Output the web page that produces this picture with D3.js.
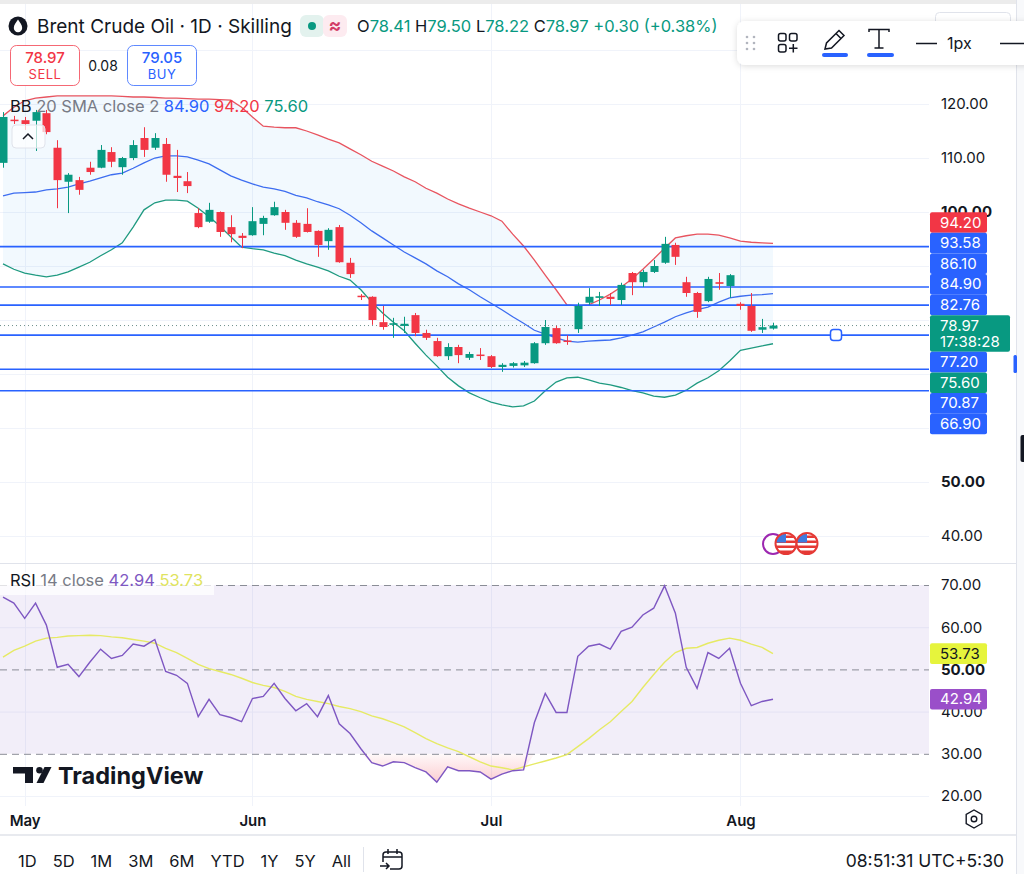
<!DOCTYPE html>
<html>
<head>
<meta charset="utf-8">
<title>Brent Crude Oil 1D</title>
<script src="https://cdn.jsdelivr.net/npm/d3@7/dist/d3.min.js"></script>
<style>
  html, body { margin: 0; padding: 0; background: #fff; overflow: hidden; }
  svg { display: block; font-family: Inter, 'Noto Sans', sans-serif; }
</style>
</head>
<body>
<svg width="1024" height="874"></svg>
<script>
'use strict'

// daily candles (index 0 = last days of April)
const opens = [109.1, 117.1, 117.0, 116.9, 118.3, 111.9, 105.6, 105.9, 108.2, 108.2,
  111.1, 108.3, 110.0, 113.7, 111.9, 112.6, 106.7, 105.7, 99.8, 98.2,
  100.0, 97.2, 95.6, 95.7, 97.8, 99.4, 100.0, 98.0, 97.8, 96.5,
  94.6, 97.2, 90.6, 84.5, 84.3, 79.6, 79.1, 78.9, 80.9, 77.6,
  76.1, 73.3, 75.0, 73.0, 73.6, 73.3, 71.3, 71.5, 71.6, 72.0,
  75.7, 78.5, 76.2, 78.3, 83.2, 84.1, 84.3, 83.7, 88.7, 87.0,
  88.9, 90.6, 93.9, 87.0, 85.0, 83.5, 87.0, 86.3, 83.0, 82.6,
  78.2, 78.41]
const highs = [118.5, 117.8, 117.6, 118.9, 118.9, 113.3, 107.2, 106.5, 109.3, 112.4,
  112.0, 110.2, 113.3, 115.7, 114.6, 113.7, 111.5, 107.4, 100.7, 101.7,
  100.1, 99.4, 96.1, 100.9, 99.3, 101.9, 100.4, 98.5, 100.7, 96.6,
  97.0, 97.6, 91.5, 84.8, 84.4, 82.6, 80.4, 80.6, 81.3, 78.2,
  76.7, 75.7, 75.4, 74.1, 74.8, 73.5, 72.0, 72.2, 72.4, 75.9,
  80.0, 78.9, 77.2, 83.2, 85.9, 85.2, 85.0, 86.9, 88.9, 89.3,
  91.1, 95.4, 94.3, 88.0, 85.2, 88.0, 88.7, 88.5, 83.3, 85.0,
  80.2, 79.50]
const lows = [108.2, 116.3, 115.2, 111.3, 114.4, 100.7, 99.8, 103.2, 106.9, 108.1,
  108.3, 106.9, 109.6, 110.2, 111.5, 105.6, 103.7, 103.5, 97.0, 98.0,
  95.4, 94.4, 93.3, 95.6, 95.7, 99.3, 96.7, 95.2, 96.2, 91.7,
  93.0, 90.6, 87.8, 83.7, 79.1, 78.2, 76.7, 77.6, 77.0, 76.3,
  73.2, 72.6, 72.0, 72.6, 72.6, 71.1, 70.4, 71.2, 71.3, 71.9,
  75.4, 75.6, 75.4, 77.6, 82.8, 82.6, 82.8, 82.8, 84.6, 86.1,
  88.7, 90.4, 90.2, 84.3, 80.4, 83.3, 85.6, 84.1, 81.9, 77.8,
  77.6, 78.22]
const closes = [117.6, 116.9, 116.3, 118.5, 114.8, 105.9, 106.9, 104.1, 107.4, 111.5,
  109.3, 110.0, 112.4, 111.5, 113.7, 106.9, 106.3, 104.8, 97.2, 100.4,
  96.3, 95.9, 95.2, 98.3, 98.9, 100.9, 98.0, 95.4, 96.3, 93.9,
  96.7, 90.7, 88.5, 84.3, 80.0, 78.7, 79.4, 79.3, 77.6, 76.7,
  73.3, 75.0, 73.5, 73.7, 73.4, 71.3, 71.7, 72.0, 72.1, 75.7,
  78.7, 75.7, 76.0, 82.6, 84.3, 84.4, 83.9, 86.5, 87.0, 88.9,
  90.0, 94.1, 91.7, 85.0, 81.5, 87.6, 86.7, 88.3, 82.6, 78.0,
  78.67, 78.97]

// Bollinger Bands 20 SMA close 2
const bbUpper = [117.8, 119.4, 120.6, 121.1, 121.3, 121.5, 121.5, 121.5, 121.5, 121.5,
  121.5, 121.4, 121.3, 121.3, 121.2, 121.1, 121.1, 121.0, 120.9, 120.9,
  120.8, 120.7, 119.4, 117.6, 115.9, 115.7, 115.6, 115.6, 115.0, 114.3,
  113.5, 112.8, 111.7, 110.6, 109.4, 108.5, 107.6, 106.5, 105.6, 104.4,
  103.5, 102.4, 101.5, 100.7, 100.0, 99.3, 98.3, 95.9, 93.7, 91.1,
  88.3, 85.6, 82.8, 82.6, 82.8, 83.7, 84.8, 86.1, 87.6, 89.4,
  91.3, 93.3, 95.2, 95.6, 95.9, 95.9, 95.7, 95.2, 94.6, 94.4,
  94.3, 94.20]
const bbBasis = [103.0, 103.5, 103.6, 103.7, 104.1, 104.3, 104.6, 105.2, 105.7, 106.3,
  106.9, 107.2, 108.1, 109.1, 110.0, 110.4, 110.4, 110.2, 109.6, 108.9,
  107.8, 106.7, 105.9, 105.2, 104.6, 104.3, 103.8, 103.1, 102.6, 101.9,
  101.3, 100.6, 99.4, 98.0, 96.5, 95.2, 93.9, 92.6, 91.5, 90.4,
  89.1, 88.0, 86.7, 85.6, 84.3, 83.1, 81.9, 80.6, 79.4, 78.1,
  77.4, 76.7, 76.1, 75.9, 76.1, 76.2, 76.3, 76.7, 77.2, 77.8,
  78.7, 79.6, 80.6, 81.3, 81.9, 82.4, 83.3, 84.1, 84.4, 84.6,
  84.7, 84.90]
const bbLower = [90.4, 89.4, 88.7, 88.3, 88.0, 88.3, 88.9, 89.8, 90.7, 91.9,
  93.0, 94.3, 97.2, 100.4, 101.7, 102.2, 102.2, 102.0, 100.7, 99.1,
  97.4, 95.4, 93.5, 93.2, 93.0, 92.4, 91.9, 91.1, 90.4, 89.8,
  89.1, 88.1, 87.4, 85.6, 83.3, 81.3, 79.6, 78.0, 75.7, 73.5,
  71.5, 69.4, 67.8, 66.5, 65.6, 64.8, 64.3, 63.9, 64.1, 65.0,
  66.9, 68.5, 69.3, 69.4, 68.9, 68.3, 68.0, 67.5, 66.9, 66.5,
  65.9, 65.7, 66.1, 67.0, 68.3, 69.3, 70.6, 72.4, 74.4, 74.8,
  75.2, 75.60]

// RSI 14 close and its moving average
const rsi = [67.1, 65.7, 62.1, 65.7, 60.5, 50.5, 51.2, 48.3, 51.7, 54.8,
  52.6, 53.3, 56.0, 55.5, 57.1, 49.5, 48.6, 46.7, 38.8, 42.9,
  39.3, 38.6, 37.6, 43.1, 43.6, 46.7, 43.1, 40.2, 41.9, 38.8,
  43.8, 37.1, 34.8, 31.2, 27.9, 27.1, 28.1, 27.9, 26.7, 25.7,
  23.3, 26.9, 26.0, 26.0, 25.7, 24.0, 25.2, 26.0, 26.2, 37.4,
  44.3, 39.8, 39.8, 53.1, 55.5, 56.0, 54.8, 59.0, 60.0, 62.9,
  64.5, 69.8, 63.3, 50.5, 45.5, 54.0, 52.6, 55.0, 46.7, 41.4,
  42.4, 42.94]
const rsiMa = [52.9, 54.5, 55.5, 56.7, 57.4, 57.6, 57.9, 58.0, 58.1, 58.0,
  57.7, 57.5, 57.1, 56.7, 56.2, 55.0, 54.0, 52.6, 51.2, 50.2,
  49.5, 48.8, 47.9, 46.9, 46.2, 45.7, 44.8, 43.6, 42.9, 42.4,
  41.9, 41.2, 40.7, 40.0, 39.0, 38.3, 37.4, 36.4, 35.0, 33.6,
  32.4, 31.4, 30.5, 29.3, 28.1, 27.1, 26.7, 26.2, 26.9, 27.6,
  28.3, 29.0, 29.8, 31.7, 33.6, 35.7, 37.6, 40.0, 42.4, 45.7,
  48.8, 51.7, 54.0, 55.0, 55.2, 56.2, 56.9, 57.4, 56.9, 56.0,
  55.2, 53.73]

const months = ['May', 'Jun', 'Jul', 'Aug']
const monthStart = [2, 23, 45, 68]

const priceTicks = [130, 120, 110, 100, 90, 80, 70, 60, 50, 40]
const rsiTicks = [70, 60, 50, 40, 30, 20]
const rsiLevels = [70, 50, 30]

// horizontal lines drawn by the user
const drawnLevels = [93.58, 86.10, 82.76, 77.20, 70.87, 66.90]

const bid = 78.97
const ask = 79.05
const countdown = '17:38:28'
const clock = '08:51:31 UTC+5:30'
const ranges = ['1D', '5D', '1M', '3M', '6M', 'YTD', '1Y', '5Y', 'All']

const up = '#089981',
  down = '#f23645',
  blue = '#2962ff',
  ink = '#131722',
  gridColor = '#f0f3fa',
  purple = '#7e57c2'

const n = closes.length
const last = n - 1
const plotRight = 929,
  edge = 1016,
  barStep = 10.845,
  toolbarBottom = 65

const svg = d3.select('svg')

const x = d3
  .scaleLinear()
  .domain([0, n - 1])
  .range([3, 3 + barStep * (n - 1)])
const y = d3
  .scaleLinear()
  .domain([40, 120])
  .range([536, 104])
const yR = d3
  .scaleLinear()
  .domain([20, 70])
  .range([796, 585])

const fmt = d3.format('.2f')

// defs
const defs = svg.append('defs')
defs.append('clipPath').attr('id', 'mainClip')
  .append('rect').attr('x', 0).attr('y', 4).attr('width', plotRight).attr('height', 558)
defs.append('clipPath').attr('id', 'rsiClip')
  .append('rect').attr('x', 0).attr('y', 564).attr('width', plotRight).attr('height', 242)
const grad = defs.append('linearGradient').attr('id', 'osGrad')
  .attr('gradientUnits', 'userSpaceOnUse')
  .attr('x1', 0).attr('x2', 0).attr('y1', yR(30)).attr('y2', yR(20))
grad.append('stop').attr('offset', 0).attr('stop-color', down).attr('stop-opacity', 0.03)
grad.append('stop').attr('offset', 1).attr('stop-color', down).attr('stop-opacity', 0.35)
const shadow = defs.append('filter').attr('id', 'shadow')
  .attr('x', '-10%').attr('y', '-40%').attr('width', '130%').attr('height', '190%')
shadow.append('feDropShadow').attr('dx', 0).attr('dy', 1).attr('stdDeviation', 3)
  .attr('flood-color', '#000').attr('flood-opacity', 0.14)
const flagClip = defs.append('clipPath').attr('id', 'flagClip')
flagClip.append('circle').attr('cx', 0).attr('cy', 0).attr('r', 10)

svg.append('rect').attr('width', 1024).attr('height', 874).attr('fill', '#fff')
svg.append('rect').attr('width', 1024).attr('height', 4).attr('fill', '#ececec')

// grid
const grid = svg.append('g').attr('stroke', gridColor).attr('stroke-width', 1)
grid.selectAll('.hg').data(priceTicks).enter().append('line')
  .attr('x1', 0).attr('x2', plotRight)
  .attr('y1', d => y(d) + 0.5).attr('y2', d => y(d) + 0.5)
grid.selectAll('.rg').data(rsiTicks.filter(d => rsiLevels.indexOf(d) < 0)).enter().append('line')
  .attr('x1', 0).attr('x2', plotRight)
  .attr('y1', d => yR(d) + 0.5).attr('y2', d => yR(d) + 0.5)
grid.selectAll('.vg').data(monthStart).enter().append('line')
  .attr('x1', d => Math.round(x(d)) + 0.5).attr('x2', d => Math.round(x(d)) + 0.5)
  .attr('y1', 4).attr('y2', 806)

// main pane
const main = svg.append('g').attr('clip-path', 'url(#mainClip)')
const idx = d3.range(n)

main.append('path').datum(idx)
  .attr('d', d3.area().x(i => x(i)).y0(i => y(bbLower[i])).y1(i => y(bbUpper[i])))
  .attr('fill', '#2196f3').attr('fill-opacity', 0.06)

const bands = [
  { values: bbUpper, color: '#e8545f' },
  { values: bbBasis, color: '#3d6df0' },
  { values: bbLower, color: '#1f9a80' }
]
main.selectAll('.band').data(bands).enter().append('path')
  .attr('d', b => d3.line().x(i => x(i)).y(i => y(b.values[i]))(idx))
  .attr('fill', 'none').attr('stroke', b => b.color).attr('stroke-width', 1.3)

main.selectAll('.level').data(drawnLevels).enter().append('line')
  .attr('x1', 0).attr('x2', plotRight)
  .attr('y1', d => y(d)).attr('y2', d => y(d))
  .attr('stroke', blue).attr('stroke-width', 1.6)

main.append('line')
  .attr('x1', 0).attr('x2', plotRight)
  .attr('y1', y(closes[last])).attr('y2', y(closes[last]))
  .attr('stroke', '#6f8f8a').attr('stroke-width', 1).attr('stroke-dasharray', '1,3')

const candle = main.append('g').selectAll('g').data(idx).enter().append('g')
  .attr('fill', i => closes[i] >= opens[i] ? up : down)
  .attr('stroke', i => closes[i] >= opens[i] ? up : down)
candle.append('line')
  .attr('x1', i => Math.round(x(i)) + 0.5).attr('x2', i => Math.round(x(i)) + 0.5)
  .attr('y1', i => y(highs[i])).attr('y2', i => y(lows[i]))
  .attr('stroke-width', 1)
candle.append('rect')
  .attr('x', i => Math.round(x(i)) - 3.5)
  .attr('y', i => y(Math.max(opens[i], closes[i])))
  .attr('width', 8)
  .attr('height', i => Math.max(1.5, Math.abs(y(opens[i]) - y(closes[i]))))
  .attr('stroke', 'none')

// collapsed legend toggle
svg.append('rect').attr('x', 12).attr('y', 125).attr('width', 33).attr('height', 23).attr('rx', 4)
  .attr('fill', '#fff').attr('fill-opacity', 0.7).attr('stroke', '#e0e3eb')
svg.append('path').attr('d', 'M23,139 L28,134 L33,139').attr('fill', 'none')
  .attr('stroke', ink).attr('stroke-width', 1.5)

// BB legend
const bbLegend = svg.append('text').attr('x', 10).attr('y', 112).attr('font-size', 16.5)
bbLegend.append('tspan').attr('fill', ink).text('BB ')
bbLegend.append('tspan').attr('fill', '#787b86').text('20 SMA close 2 ')
bbLegend.append('tspan').attr('fill', blue).text(fmt(bbBasis[last]) + ' ')
bbLegend.append('tspan').attr('fill', down).text(fmt(bbUpper[last]) + ' ')
bbLegend.append('tspan').attr('fill', up).text(fmt(bbLower[last]))

// header
svg.append('circle').attr('cx', 18).attr('cy', 26).attr('r', 9.5).attr('fill', ink)
svg.append('path')
  .attr('d', 'M18,19.5 C16,22.5 13.8,25 13.8,28 A4.2,4.2 0 0 0 22.2,28 C22.2,25 20,22.5 18,19.5 Z')
  .attr('fill', '#fff')
svg.append('text').attr('x', 37).attr('y', 33).attr('font-size', 19).attr('fill', ink)
  .text('Brent Crude Oil · 1D · Skilling')
svg.append('rect').attr('x', 300).attr('y', 15).attr('width', 24).attr('height', 22).attr('rx', 6).attr('fill', '#e3f2ee')
svg.append('rect').attr('x', 323).attr('y', 15).attr('width', 24).attr('height', 22).attr('rx', 6).attr('fill', '#fdebf0')
svg.append('circle').attr('cx', 312).attr('cy', 26).attr('r', 4).attr('fill', up)
svg.append('text').attr('x', 335).attr('y', 32).attr('text-anchor', 'middle').attr('font-size', 19)
  .attr('font-weight', 700).attr('fill', '#d23a66').text('≈')

const change = closes[last] - closes[last - 1]
const ohlc = svg.append('text').attr('x', 357).attr('y', 32).attr('font-size', 16.5)
const ohlcParts = [['O', opens[last]], ['H', highs[last]], ['L', lows[last]], ['C', closes[last]]]
ohlcParts.forEach(p => {
  ohlc.append('tspan').attr('fill', ink).text(p[0])
  ohlc.append('tspan').attr('fill', up).text(fmt(p[1]) + ' ')
})
ohlc.append('tspan').attr('fill', up)
  .text('+' + fmt(change) + ' (+' + fmt(change / closes[last - 1] * 100) + '%)')

// sell / buy
const sides = [
  { x: 10, price: bid, label: 'SELL', color: down },
  { x: 127, price: ask, label: 'BUY', color: blue }
]
const side = svg.selectAll('.side').data(sides).enter().append('g')
side.append('rect').attr('x', d => d.x + 0.5).attr('y', 45.5).attr('width', 69).attr('height', 40).attr('rx', 6)
  .attr('fill', '#fff').attr('stroke', d => d.color).attr('stroke-opacity', 0.75)
side.append('text').attr('x', d => d.x + 35).attr('y', 63).attr('text-anchor', 'middle')
  .attr('font-size', 15).attr('font-weight', 500).attr('fill', d => d.color).text(d => fmt(d.price))
side.append('text').attr('x', d => d.x + 35).attr('y', 79).attr('text-anchor', 'middle')
  .attr('font-size', 13).attr('letter-spacing', 0.5).attr('fill', d => d.color).text(d => d.label)
svg.append('text').attr('x', 103).attr('y', 71).attr('text-anchor', 'middle')
  .attr('font-size', 14).attr('fill', ink).text(fmt(ask - bid))

// stacked price labels, anchored on the last price
const labelH = 20.6
const items = [
  { v: bbUpper[last], color: down },
  { v: bbBasis[last], color: blue },
  { v: bbLower[last], color: up },
  { v: closes[last], color: up, current: true }
].concat(drawnLevels.map(v => ({ v: v, color: blue })))
items.sort((a, b) => b.v - a.v)
const ci = items.findIndex(d => d.current)
items.forEach(d => { d.h = d.current ? 36.6 : labelH })
items[ci].top = y(items[ci].v) - labelH / 2
for (let i = ci - 1; i >= 0; i--) {
  items[i].top = Math.min(y(items[i].v) - labelH / 2, items[i + 1].top - labelH)
}
for (let i = ci + 1; i < items.length; i++) {
  items[i].top = Math.max(y(items[i].v) - labelH / 2, items[i - 1].top + items[i - 1].h)
}
const stackTop = items[0].top
const stackBottom = items[items.length - 1].top + items[items.length - 1].h

// price axis: tick labels hidden under the label stack or the toolbar are left out
const visibleTicks = priceTicks.filter(d => {
  const ty = y(d)
  const underStack = ty - 4 > stackTop && ty + 6 < stackBottom
  return !underStack && ty > toolbarBottom
})
const yAxis = svg.append('g').attr('transform', 'translate(' + plotRight + ',0)')
  .call(d3.axisRight(y).tickValues(visibleTicks).tickSize(0).tickPadding(12).tickFormat(fmt))
yAxis.select('.domain').remove()
yAxis.attr('font-family', null).attr('font-size', 15)
yAxis.selectAll('text').attr('fill', ink).attr('font-weight', d => d % 50 === 0 ? 700 : 400)

const tag = svg.append('g').selectAll('g').data(items).enter().append('g')
tag.append('rect').attr('x', 930).attr('y', d => d.top)
  .attr('width', d => d.current ? 80 : 57).attr('height', d => d.h).attr('rx', 2)
  .attr('fill', d => d.color)
tag.append('text').attr('x', 940).attr('y', d => d.top + 15.3)
  .attr('font-size', 15).attr('fill', '#fff').text(d => fmt(d.v))
tag.filter(d => d.current).append('text').attr('x', 940).attr('y', d => d.top + 31.5)
  .attr('font-size', 15).attr('fill', '#fff').text(countdown)

// drawing handle on the selected line
svg.append('rect').attr('x', 830.5).attr('y', y(77.20) - 5.5).attr('width', 11).attr('height', 11).attr('rx', 3)
  .attr('fill', '#fff').attr('stroke', blue).attr('stroke-width', 1.5)

// event markers
svg.append('circle').attr('cx', 773).attr('cy', 544).attr('r', 10).attr('fill', '#fff')
  .attr('stroke', '#9c27b0').attr('stroke-width', 2)
;[786, 807].forEach(cx => {
  const g = svg.append('g').attr('transform', 'translate(' + cx + ',543.5)')
  const f = g.append('g').attr('clip-path', 'url(#flagClip)')
  f.append('rect').attr('x', -11).attr('y', -11).attr('width', 22).attr('height', 22).attr('fill', '#fff')
  d3.range(4).forEach(k => {
    f.append('rect').attr('x', -11).attr('y', -8 + k * 5).attr('width', 22).attr('height', 2.5).attr('fill', '#e53935')
  })
  f.append('rect').attr('x', -11).attr('y', -11).attr('width', 11).attr('height', 10).attr('fill', '#3d7be0')
  g.append('circle').attr('r', 10.5).attr('fill', 'none').attr('stroke', '#e53935').attr('stroke-width', 2)
})

// pane separator
svg.append('line').attr('x1', 0).attr('x2', edge).attr('y1', 563.5).attr('y2', 563.5)
  .attr('stroke', '#e0e3eb').attr('stroke-width', 1)

// RSI pane
const pane = svg.append('g').attr('clip-path', 'url(#rsiClip)')
pane.append('rect').attr('x', 0).attr('width', plotRight)
  .attr('y', yR(70)).attr('height', yR(30) - yR(70))
  .attr('fill', purple).attr('fill-opacity', 0.1)
pane.append('path').datum(idx)
  .attr('d', d3.area().x(i => x(i)).y0(yR(30)).y1(i => yR(Math.min(rsi[i], 30))))
  .attr('fill', 'url(#osGrad)')
pane.selectAll('.lvl').data(rsiLevels).enter().append('line')
  .attr('x1', 0).attr('x2', plotRight)
  .attr('y1', d => yR(d) + 0.5).attr('y2', d => yR(d) + 0.5)
  .attr('stroke', '#8a8d96').attr('stroke-width', 1).attr('stroke-dasharray', '7,5')
pane.append('path').datum(idx)
  .attr('d', d3.line().x(i => x(i)).y(i => yR(rsiMa[i])))
  .attr('fill', 'none').attr('stroke', '#e6ea64').attr('stroke-width', 1.4)
pane.append('path').datum(idx)
  .attr('d', d3.line().x(i => x(i)).y(i => yR(rsi[i])))
  .attr('fill', 'none').attr('stroke', purple).attr('stroke-width', 1.4)

svg.append('rect').attr('x', 0).attr('y', 572).attr('width', 214).attr('height', 23)
  .attr('fill', '#fff').attr('fill-opacity', 0.75)
const rsiLegend = svg.append('text').attr('x', 10).attr('y', 586).attr('font-size', 16.5)
rsiLegend.append('tspan').attr('fill', ink).text('RSI ')
rsiLegend.append('tspan').attr('fill', '#787b86').text('14 close ')
rsiLegend.append('tspan').attr('fill', purple).text(fmt(rsi[last]) + ' ')
rsiLegend.append('tspan').attr('fill', '#dfe35f').text(fmt(rsiMa[last]))

// TradingView watermark
const logo = svg.append('g').attr('fill', ink)
logo.append('rect').attr('x', 13).attr('y', 767).attr('width', 20).attr('height', 6.5)
logo.append('rect').attr('x', 25).attr('y', 767).attr('width', 8).attr('height', 16)
logo.append('circle').attr('cx', 39.5).attr('cy', 770.3).attr('r', 3.3)
logo.append('path').attr('d', 'M44.5,767 L51.5,767 L43.5,783 L36.5,783 Z')
svg.append('text').attr('x', 58).attr('y', 783.5).attr('font-size', 23.5).attr('font-weight', 700)
  .attr('fill', ink).text('TradingView')

const rAxis = svg.append('g').attr('transform', 'translate(' + plotRight + ',0)')
  .call(d3.axisRight(yR).tickValues(rsiTicks).tickSize(0).tickPadding(12).tickFormat(fmt))
rAxis.select('.domain').remove()
rAxis.attr('font-family', null).attr('font-size', 15)
rAxis.selectAll('text').attr('fill', ink).attr('font-weight', d => d % 50 === 0 ? 700 : 400)

const rsiTags = [
  { v: rsiMa[last], fill: '#e6f43c', text: ink },
  { v: rsi[last], fill: '#9a4fc9', text: '#fff' }
]
const rtag = svg.append('g').selectAll('g').data(rsiTags).enter().append('g')
rtag.append('rect').attr('x', 930).attr('y', d => yR(d.v) - labelH / 2)
  .attr('width', 57).attr('height', labelH).attr('rx', 2).attr('fill', d => d.fill)
rtag.append('text').attr('x', 940).attr('y', d => yR(d.v) + 5.2)
  .attr('font-size', 15).attr('fill', d => d.text).text(d => fmt(d.v))

// time axis
const xAxis = svg.append('g').attr('transform', 'translate(0,806)')
  .call(d3.axisBottom(x).tickValues(monthStart).tickSize(0).tickFormat((d, i) => months[i]))
xAxis.select('.domain').remove()
xAxis.attr('font-family', null).attr('font-size', 15)
xAxis.selectAll('text').attr('y', 20).attr('dy', 0).attr('font-weight', 600).attr('fill', ink)

// settings icon
svg.append('path')
  .attr('d', d3.range(6).map(k => {
    const a = Math.PI / 6 + k * Math.PI / 3
    return (k ? 'L' : 'M') + (974 + 9 * Math.cos(a)).toFixed(1) + ',' + (819 + 9 * Math.sin(a)).toFixed(1)
  }).join('') + 'Z')
  .attr('fill', 'none').attr('stroke', ink).attr('stroke-width', 1.4)
svg.append('circle').attr('cx', 974).attr('cy', 819).attr('r', 2.8).attr('fill', 'none')
  .attr('stroke', ink).attr('stroke-width', 1.4)

// bottom toolbar
svg.append('line').attr('x1', 0).attr('x2', edge).attr('y1', 835).attr('y2', 835)
  .attr('stroke', '#e8eaef').attr('stroke-width', 2)
const rangeG = svg.append('g')
let rx = 18
ranges.forEach(r => {
  const t = rangeG.append('text').attr('x', rx).attr('y', 867).attr('font-size', 16.5).attr('fill', ink).text(r)
  rx += t.node().getComputedTextLength() + 16
})
svg.append('line').attr('x1', 363.5).attr('x2', 363.5).attr('y1', 847).attr('y2', 872)
  .attr('stroke', '#e0e3eb')
const cal = svg.append('g').attr('fill', 'none').attr('stroke', ink).attr('stroke-width', 1.5)
cal.append('path').attr('d', 'M383,862 L383,855 Q383,852 386,852 L399,852 Q402,852 402,855 L402,866 Q402,869 399,869 L390,869')
cal.append('path').attr('d', 'M383,857 L402,857 M388,849 L388,854 M397,849 L397,854')
cal.append('path').attr('d', 'M380,866 L389,866 M386,863 L389,866 L386,869')
svg.append('text').attr('x', 1004).attr('y', 867).attr('text-anchor', 'end')
  .attr('font-size', 17.5).attr('fill', ink).text(clock)

// right edge
svg.append('rect').attr('x', edge + 1).attr('y', 0).attr('width', 1024 - edge).attr('height', 874).attr('fill', '#f8f9fb')
svg.append('line').attr('x1', edge + 0.5).attr('x2', edge + 0.5).attr('y1', 0).attr('y2', 874).attr('stroke', '#e0e3eb')
svg.append('rect').attr('x', 1013.5).attr('y', 355).attr('width', 3.5).attr('height', 18).attr('rx', 1.5).attr('fill', blue)
svg.append('rect').attr('x', 1020.5).attr('y', 435).attr('width', 5).attr('height', 27).attr('rx', 2).attr('fill', ink)

// floating drawing toolbar
svg.append('rect').attr('x', 935.5).attr('y', 12.5).attr('width', 75).attr('height', 26).attr('rx', 4)
  .attr('fill', '#fff').attr('stroke', '#e0e3eb')
svg.append('rect').attr('x', 737).attr('y', 21).attr('width', 300).attr('height', toolbarBottom - 21).attr('rx', 8)
  .attr('fill', '#fff').attr('filter', 'url(#shadow)')
const tb = svg.append('g')
;[37, 43, 49].forEach(cy => {
  ;[747, 754].forEach(cx => tb.append('circle').attr('cx', cx).attr('cy', cy).attr('r', 1.3).attr('fill', '#b2b5be'))
})
const icons = tb.append('g').attr('fill', 'none').attr('stroke', ink).attr('stroke-width', 1.5)
icons.append('rect').attr('x', 778.5).attr('y', 33.5).attr('width', 7.5).attr('height', 7.5).attr('rx', 2)
icons.append('rect').attr('x', 789.5).attr('y', 33.5).attr('width', 7.5).attr('height', 7.5).attr('rx', 2)
icons.append('rect').attr('x', 778.5).attr('y', 44.5).attr('width', 7.5).attr('height', 7.5).attr('rx', 2)
icons.append('path').attr('d', 'M793.3,44 L793.3,52.5 M789,48.3 L797.5,48.3')
icons.append('path').attr('d', 'M825,49 L826.5,43 L839,30.5 L844,35.5 L831.5,48 Z M836,33.5 L841,38.5')
icons.append('path').attr('d', 'M869,32 L869,29.5 L889,29.5 L889,32 M879,29.5 L879,48 M874.5,48 L883.5,48')
tb.append('rect').attr('x', 822).attr('y', 53).attr('width', 26).attr('height', 4).attr('rx', 2).attr('fill', blue)
tb.append('rect').attr('x', 867).attr('y', 53).attr('width', 27).attr('height', 4).attr('rx', 2).attr('fill', blue)
tb.append('line').attr('x1', 916).attr('x2', 937).attr('y1', 43.5).attr('y2', 43.5).attr('stroke', ink).attr('stroke-width', 1.5)
tb.append('text').attr('x', 947).attr('y', 49).attr('font-size', 16).attr('fill', ink).text('1px')
tb.append('line').attr('x1', 1000).attr('x2', 1024).attr('y1', 43.5).attr('y2', 43.5).attr('stroke', ink).attr('stroke-width', 1.5)
</script>
</body>
</html>
